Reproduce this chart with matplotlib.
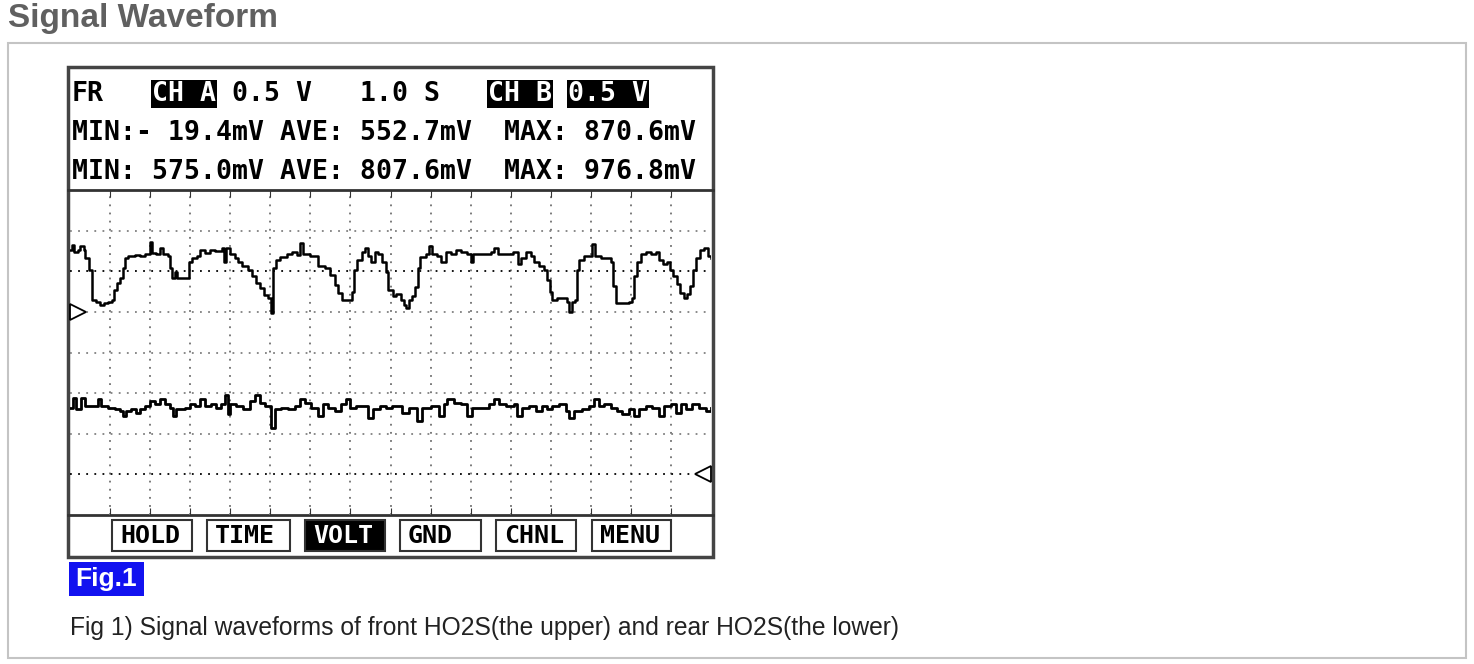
import numpy as np
import matplotlib.pyplot as plt
from matplotlib.patches import Rectangle

W, H = 1474, 664

# front HO2S (CH A), time in s, voltage in mV
time_a = [0.00, 0.05, 0.10, 0.20, 0.25, 0.35, 0.375, 0.45, 0.475, 0.55, 0.65, 0.75, 0.85, 0.95,
          1.05, 1.10, 1.175, 1.25, 1.325, 1.375, 1.45, 1.625, 1.75, 1.875, 2.00, 2.05, 2.15,
          2.25, 2.325, 2.45, 2.50, 2.55, 2.625, 2.675, 2.925, 2.975, 3.05, 3.175, 3.25, 3.375,
          3.50, 3.625, 3.80, 3.85, 3.90, 4.00, 4.125, 4.20, 4.30, 4.45, 4.55, 4.65, 4.75, 4.85,
          4.95, 5.025, 5.075, 5.15, 5.25, 5.425, 5.55, 5.675, 5.75, 5.825, 6.00, 6.15, 6.20,
          6.375, 6.50, 6.625, 6.70, 6.80, 7.00, 7.05, 7.10, 7.175, 7.30, 7.375, 7.45, 7.525,
          7.625, 7.70, 7.80, 7.90, 7.95, 8.05, 8.125, 8.25, 8.325, 8.375, 8.45, 8.525, 8.60,
          8.675, 8.725, 8.875, 8.95, 9.025, 9.15, 9.25, 9.375, 9.50, 9.625, 9.75, 9.90, 10.00,
          10.05, 10.25, 10.50, 10.575, 10.675, 10.875, 11.05, 11.175, 11.25, 11.375, 11.50,
          11.575, 11.70, 11.825, 11.90, 11.975, 12.025, 12.15, 12.30, 12.40, 12.45, 12.525,
          12.60, 12.65, 12.70, 12.825, 12.95, 13.025, 13.10, 13.25, 13.40, 13.50, 13.55,
          13.625, 13.80, 13.95, 14.025, 14.075, 14.15, 14.25, 14.375, 14.50, 14.625, 14.70,
          14.80, 14.90, 14.975, 15.05, 15.15, 15.225, 15.325, 15.40, 15.475, 15.55, 15.625,
          15.725, 15.825, 15.925, 16.00]
volt_a = [764, 825, 739, 764, 813, 764, 665, 665, 517, 148, 123, 86, 111, 123,
          148, 271, 357, 419, 542, 665, 690, 702, 690, 715, 860, 727, 715,
          788, 715, 690, 542, 419, 493, 419, 419, 616, 665, 690, 764, 727,
          764, 752, 788, 616, 788, 715, 665, 616, 567, 517, 444, 357, 296, 209,
          172, -19, 542, 641, 678, 715, 739, 702, 845, 715, 690, 690, 567,
          542, 456, 333, 234, 148, 148, 246, 517, 641, 739, 788, 690, 616,
          739, 715, 616, 493, 271, 197, 222, 148, 86, 49, 148, 197, 308,
          542, 678, 715, 813, 715, 690, 616, 739, 715, 764, 739, 715, 616,
          715, 715, 739, 788, 715, 715, 739, 591, 665, 739, 690,
          616, 567, 517, 394, 246, 148, 172, 172, 123, 0, 123,
          148, 517, 641, 690, 690, 830, 690, 665, 665, 616, 320,
          111, 111, 123, 172, 444, 616, 715, 739, 715, 739, 641,
          591, 616, 517, 444, 345, 234, 172, 222, 320, 517, 665,
          764, 788, 690, 665]

# rear HO2S (CH B)
time_b = [0.00, 0.075, 0.15, 0.275, 0.375, 0.50, 0.70, 0.775, 0.95, 1.125, 1.25, 1.325, 1.40,
          1.525, 1.65, 1.75, 1.875, 2.00, 2.125, 2.25, 2.375, 2.50, 2.575, 2.65, 2.875, 3.00,
          3.125, 3.25, 3.375, 3.525, 3.65, 3.775, 3.875, 3.95, 4.00, 4.15, 4.325, 4.50, 4.625,
          4.75, 4.875, 5.00, 5.025, 5.125, 5.275, 5.45, 5.625, 5.75, 5.875, 6.025, 6.20, 6.325,
          6.45, 6.625, 6.775, 6.90, 7.00, 7.15, 7.325, 7.45, 7.575, 7.75, 7.90, 8.025, 8.15,
          8.275, 8.45, 8.65, 8.775, 9.00, 9.20, 9.325, 9.40, 9.575, 9.75, 9.90, 10.025, 10.25,
          10.45, 10.575, 10.70, 10.875, 11.075, 11.15, 11.275, 11.45, 11.625, 11.775, 11.90,
          12.025, 12.20, 12.375, 12.45, 12.575, 12.775, 12.95, 13.075, 13.20, 13.325, 13.50,
          13.65, 13.775, 13.95, 14.075, 14.20, 14.375, 14.525, 14.70, 14.825, 15.00, 15.125,
          15.25, 15.375, 15.525, 15.70, 15.875, 16.00]
volt_b = [821, 945, 801, 945, 842, 842, 924, 842, 821, 801, 780, 719, 780,
          801, 760, 801, 842, 903, 862, 924, 862, 821, 719, 801, 821, 862,
          842, 924, 842, 862, 821, 862, 975, 739, 862, 842, 801, 903, 975,
          883, 842, 842, 575, 801, 821, 801, 842, 924, 883, 821, 719, 862,
          821, 780, 862, 924, 821, 842, 842, 698, 801, 842, 821, 842, 842,
          760, 821, 657, 821, 842, 719, 862, 924, 883, 862, 719, 821, 821,
          862, 924, 862, 842, 862, 719, 821, 842, 780, 842, 801,
          842, 862, 780, 698, 780, 801, 842, 924, 842, 862, 821,
          780, 739, 801, 719, 801, 842, 821, 719, 842, 862, 760,
          862, 801, 862, 821, 780, 821]

header_rows = ["MIN:- 19.4mV AVE: 552.7mV  MAX: 870.6mV",
               "MIN: 575.0mV AVE: 807.6mV  MAX: 976.8mV"]
top_tokens = [("FR", 0, False), ("CH A", 5, True), ("0.5 V", 10, False),
              ("1.0 S", 18, False), ("CH B", 26, True), ("0.5 V", 31, True)]
buttons = ["HOLD", "TIME", "VOLT", "GND", "CHNL", "MENU"]
button_x = [(112, 192), (207, 290), (305, 385), (400, 481), (496, 576), (592, 671)]

mono = "DejaVu Sans Mono"
sans = "Liberation Sans"

fig = plt.figure(figsize=(W / 100, H / 100), dpi=100)
bg = fig.add_axes([0, 0, 1, 1])
bg.set_xlim(0, W)
bg.set_ylim(H, 0)
bg.axis("off")

bg.text(8, 18, "Signal Waveform", fontsize=24, fontweight="bold", color="#606060",
        va="center", family=sans)
bg.add_patch(Rectangle((8, 43), 1458, 615, fill=False, ec="#c4c4c4", lw=1.5))

# scope screen
bg.add_patch(Rectangle((68, 67), 645, 490, fc="white", ec="#444444", lw=2.5))
bg.plot([68, 713], [190, 190], color="#333333", lw=2)
bg.plot([68, 713], [515, 515], color="#333333", lw=2)

for label, col, inv in top_tokens:
    x = 72 + 16 * col
    if inv:
        bg.add_patch(Rectangle((x - 1, 80), 16 * len(label) + 2, 28, fc="black", ec="none"))
    bg.text(x, 94, label, fontsize=19.1, family=mono, fontweight="bold", va="center",
            color="white" if inv else "black")
for i, row in enumerate(header_rows):
    bg.text(72, 133 + 39 * i, row, fontsize=19.1, family=mono, fontweight="bold",
            va="center", color="black")

for label, (x0, x1) in zip(buttons, button_x):
    inv = label == "VOLT"
    bg.add_patch(Rectangle((x0, 520), x1 - x0, 31, fc="black" if inv else "white",
                           ec="#333333", lw=1.5))
    bg.text(x0 + 8, 536, label, fontsize=18, family=mono, fontweight="bold", va="center",
            color="white" if inv else "black")

bg.add_patch(Rectangle((69, 562), 75, 34, fc="#1212f0", ec="none"))
bg.text(75, 579, "Fig.1", fontsize=19, fontweight="bold", family=sans, color="white",
        va="center")
bg.text(70, 628, "Fig 1) Signal waveforms of front HO2S(the upper) and rear HO2S(the lower)",
        fontsize=17.7, family=sans, color="#222222", va="center")

# waveform area: 16 div x 8 div, 1.0 s/div, 0.5 V/div
ax = fig.add_axes([70 / W, 1 - 515 / H, 641 / W, 325 / H])
ax.set_xlim(0, 16)
ax.set_ylim(-2.5, 1.5)
ax.patch.set_alpha(0)
for s in ax.spines.values():
    s.set_visible(False)
ax.set_xticks(range(1, 16))
ax.set_yticks([])
ax.tick_params(axis="x", direction="in", length=5, top=True, bottom=True,
               labelbottom=False, color="#333333")

for t in range(1, 16):
    ax.axvline(t, color="#707070", lw=1.3, ls=(0, (1, 3.5)), zorder=1)
for v in [1.0, 0.5, 0.0, -0.5, -1.0, -1.5, -2.0]:
    dark = v in (0.5, -2.0)
    ax.axhline(v, color="black" if dark else "#808080", lw=1.3, ls=(0, (1, 3.5)), zorder=1)

ax.plot(time_a, np.array(volt_a) / 1000, drawstyle="steps-post", color="black", lw=1.8, zorder=3)
ax.plot([0.2], [0], marker=">", ms=11, mfc="white", mec="black", mew=1.3, clip_on=False, zorder=4)

ax2 = ax.twinx()
ax2.set_ylim(-0.5, 3.5)
ax2.axis("off")
ax2.plot(time_b, np.array(volt_b) / 1000, drawstyle="steps-post", color="black", lw=2)
ax2.plot([15.8], [0], marker="<", ms=11, mfc="white", mec="black", mew=1.3, clip_on=False)

fig.savefig("out.png", dpi=100)
